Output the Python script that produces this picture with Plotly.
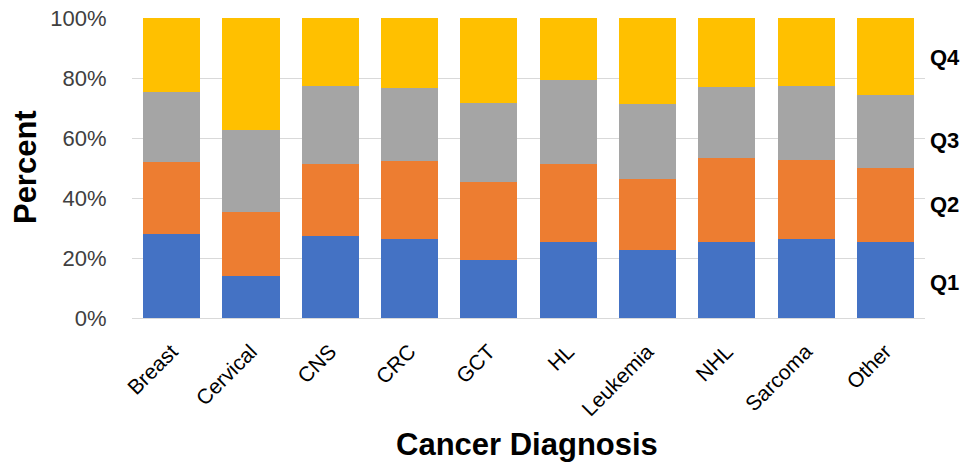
import plotly.graph_objects as go

# Share of patients in each quartile, by cancer diagnosis (percent)
diagnoses = ["Breast", "Cervical", "CNS", "CRC", "GCT", "HL",
             "Leukemia", "NHL", "Sarcoma", "Other"]
q1 = [28.0, 14.0, 27.3, 26.4, 19.3, 25.2, 22.8, 25.2, 26.3, 25.3]
q2 = [24.0, 21.3, 24.0, 26.0, 25.9, 26.1, 23.6, 28.2, 26.3, 24.6]
q3 = [23.4, 27.4, 25.9, 24.4, 26.5, 27.9, 24.8, 23.6, 24.6, 24.5]
q4 = [24.6, 37.3, 22.8, 23.2, 28.3, 20.8, 28.8, 23.0, 22.8, 25.6]

series = [("Q1", q1, "#4472C4"), ("Q2", q2, "#ED7D31"),
          ("Q3", q3, "#A5A5A5"), ("Q4", q4, "#FFC000")]

# Quartile labels beside the last bar (percent height)
quartile_names = ["Q4", "Q3", "Q2", "Q1"]
quartile_label_y = [87.0, 59.3, 38.0, 11.7]

FONT = "Liberation Sans, Arial, sans-serif"

fig = go.Figure()
for name, vals, color in series:
    fig.add_trace(go.Bar(
        x=diagnoses, y=vals, name=name,
        marker=dict(color=color, line=dict(width=0)),
        hoverinfo="x+y+name",
    ))

fig.update_layout(
    barmode="stack",
    bargap=0.28,
    width=963, height=467,
    margin=dict(l=132, r=38, t=18, b=149, autoexpand=False),
    paper_bgcolor="white", plot_bgcolor="white",
    showlegend=False,
    font=dict(family=FONT, color="#404040"),
)

fig.update_yaxes(
    range=[0, 100], dtick=20, ticksuffix="%", automargin=False,
    showgrid=True, gridcolor="#D9D9D9", gridwidth=1,
    zeroline=True, zerolinecolor="#D9D9D9", zerolinewidth=1,
    showline=False,
    ticks="outside", ticklen=20, tickcolor="rgba(0,0,0,0)",
    tickfont=dict(size=22, color="#404040", family=FONT),
)

fig.update_xaxes(
    tickangle=-45, automargin=False,
    ticks="outside", ticklen=12, tickcolor="rgba(0,0,0,0)",
    tickfont=dict(size=21, color="#000000", family=FONT),
    showline=False, showgrid=False,
)

# Axis titles
fig.add_annotation(
    text="<b>Cancer Diagnosis</b>", xref="paper", yref="paper",
    x=0.498, y=-0.423, xanchor="center", yanchor="middle",
    showarrow=False, font=dict(size=31, color="#000000", family=FONT),
)
fig.add_annotation(
    text="<b>Percent</b>", xref="paper", yref="paper",
    x=-0.135, y=0.503, xanchor="center", yanchor="middle",
    textangle=-90, showarrow=False,
    font=dict(size=31, color="#000000", family=FONT),
)

for name, yv in zip(quartile_names, quartile_label_y):
    fig.add_annotation(
        text=f"<b>{name}</b>", xref="paper", yref="y",
        x=1.0, y=yv, xanchor="left", yanchor="middle", xshift=3,
        showarrow=False, font=dict(size=22, color="#000000", family=FONT),
    )

fig.write_html("out.html")
